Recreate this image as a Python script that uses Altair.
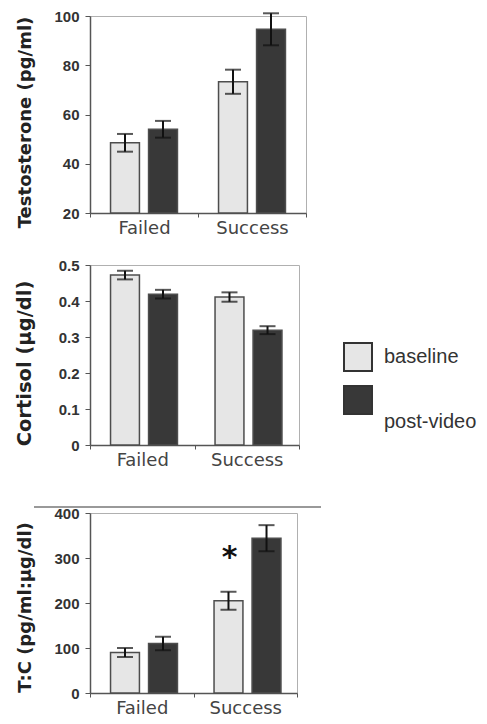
import altair as alt
import pandas as pd

groups = ["Failed", "Failed", "Success", "Success"]
series = ["baseline", "post-video", "baseline", "post-video"]
group_names = ["Failed", "Success"]
series_names = ["baseline", "post-video"]
series_colors = ["#e6e6e6", "#383838"]

testosterone_mean = [48.5, 54.0, 73.3, 94.6]
testosterone_err = [3.6, 3.4, 4.9, 6.5]
cortisol_mean = [0.472, 0.419, 0.411, 0.319]
cortisol_err = [0.012, 0.012, 0.013, 0.011]
tc_mean = [90, 110, 205, 344]
tc_err = [10, 15, 20, 29]

star_group = ["Success"]
star_series = ["baseline"]
star_value = [300]
star_label = ["*"]

testosterone_ticks = [20, 40, 60, 80, 100]
cortisol_ticks = [0, 0.1, 0.2, 0.3, 0.4, 0.5]
tc_ticks = [0, 100, 200, 300, 400]


def panel(mean, err, domain, ticks, fmt, title, w, h, title_size, title_y, star=False, deco=False):
    df = pd.DataFrame({
        "group": groups,
        "series": series,
        "mean": mean,
        "lo": [m - e for m, e in zip(mean, err)],
        "hi": [m + e for m, e in zip(mean, err)],
    })
    xenc = alt.X("group:N", sort=group_names,
                 scale=alt.Scale(paddingInner=0, paddingOuter=0),
                 axis=alt.Axis(title=None, labelAngle=0, tickBand="extent", tickSize=4,
                               labelFont="DejaVu Sans", labelFontSize=18, labelColor="#444",
                               labelPadding=2, domainColor="#555", domainWidth=1.5,
                               tickColor="#555"))
    xoff = alt.XOffset("series:N", sort=series_names,
                       scale=alt.Scale(paddingInner=0.24, paddingOuter=0.54))
    yscale = alt.Scale(domain=domain, nice=False, zero=False)
    base = alt.Chart(df).encode(x=xenc, xOffset=xoff)
    bars = base.mark_bar(stroke="#4d4d4d", strokeWidth=1.5).encode(
        y=alt.Y("mean:Q", scale=yscale,
                axis=alt.Axis(values=ticks, tickCount=len(ticks), format=fmt, title=title,
                              titleX=-56, titleY=title_y,
                              titleFont="DejaVu Sans", titleFontWeight="bold",
                              titleFontSize=title_size, titleColor="#222",
                              labelFont="Liberation Sans", labelFontWeight="bold",
                              labelFontSize=15, labelColor="#333", labelPadding=6,
                              tickSize=5, tickColor="#555", domainColor="#555",
                              domainWidth=1.5, grid=False)),
        y2=alt.Y2(datum=domain[0]),
        color=alt.Color("series:N",
                        scale=alt.Scale(domain=series_names, range=series_colors),
                        legend=alt.Legend(title=None, orient="none", legendX=253, legendY=326,
                                          symbolType="square", symbolSize=784,
                                          symbolStrokeColor="#333", symbolStrokeWidth=2,
                                          symbolOpacity=1, labelFont="Liberation Sans",
                                          labelFontSize=20, labelColor="#333",
                                          labelOffset=11, rowPadding=7,
                                          labelExpr="datum.label == 'post-video' ? ['', datum.label] : datum.label")),
    )
    rules = base.mark_rule(color="#111", strokeWidth=2).encode(
        y=alt.Y("lo:Q", scale=yscale), y2="hi:Q")
    cap_lo = base.mark_tick(color="#111", thickness=2, size=16).encode(
        y=alt.Y("lo:Q", scale=yscale))
    cap_hi = base.mark_tick(color="#111", thickness=2, size=16).encode(
        y=alt.Y("hi:Q", scale=yscale))
    layers = [bars, rules, cap_lo, cap_hi]
    if star:
        sdf = pd.DataFrame({"group": star_group, "series": star_series,
                            "v": star_value, "label": star_label})
        st = alt.Chart(sdf).mark_text(fontSize=30, fontWeight="bold", color="#111",
                                      font="DejaVu Sans", dx=1, baseline="middle").encode(
            x=alt.X("group:N", sort=group_names),
            xOffset=alt.XOffset("series:N", sort=series_names),
            y=alt.Y("v:Q", scale=yscale),
            text="label:N")
        layers.append(st)
    if deco:
        line = alt.Chart(df).mark_rule(color="#999", strokeWidth=1.5, clip=False).encode(
            x=alt.value(-56), x2=alt.value(231), y=alt.value(-6))
        layers.append(line)
    return alt.layer(*layers).properties(width=w, height=h)


def spacer(h):
    return alt.Chart(pd.DataFrame({"a": [0]})).mark_point(opacity=0, size=1).encode(
        x=alt.value(0), y=alt.value(0)
    ).properties(width=10, height=h, view=alt.ViewBackground(stroke="transparent"))


p1 = panel(testosterone_mean, testosterone_err, [20, 100], testosterone_ticks, ".0f",
           "Testosterone (pg/ml)", 216, 197, 18, 106)
p2 = panel(cortisol_mean, cortisol_err, [0, 0.5], cortisol_ticks, ".1~f",
           "Cortisol (µg/dl)", 209, 180, 19.5, 98)
p3 = panel(tc_mean, tc_err, [0, 400], tc_ticks, ".0f",
           "T:C (pg/ml:µg/dl)", 207, 180, 18, 94, star=True, deco=True)

chart = alt.vconcat(p1, spacer(32), p2, spacer(48), p3, spacing=10, bounds="flush").properties(
    padding={"left": 5, "top": 0, "right": 0, "bottom": 0},
    background="white",
).configure_view(stroke="#b0b0b0", strokeWidth=1)

chart.save("out.html", embed_options={"renderer": "svg", "actions": False})
